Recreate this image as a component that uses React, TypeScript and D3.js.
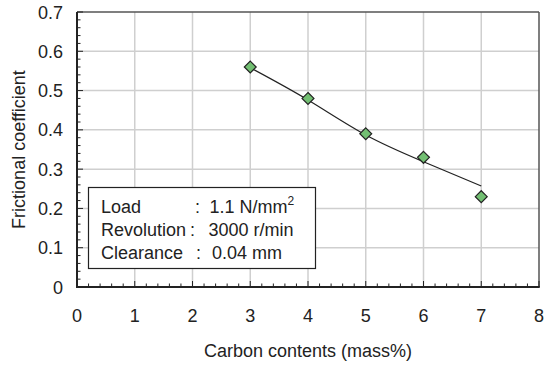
import React from "react";
import * as d3 from "d3";

const carbon = [3, 4, 5, 6, 7];
const friction = [0.56, 0.48, 0.39, 0.33, 0.23];
const fitX = [3, 4, 5, 6, 7];
const fitY = [0.558, 0.476, 0.387, 0.319, 0.257];
const xTicks = [0, 1, 2, 3, 4, 5, 6, 7, 8];
const yTicks = [0, 0.1, 0.2, 0.3, 0.4, 0.5, 0.6, 0.7];
const legendLabels = ["Load", "Revolution", "Clearance"];
const legendValues = ["1.1 N/mm", "3000 r/min", "0.04 mm"];

const W = 544, H = 365;
const L = 77, R = 539, T = 12, B = 287;

export default function App() {
  const x = d3.scaleLinear().domain([0, 8]).range([L, R]);
  const y = d3.scaleLinear().domain([0, 0.7]).range([B, T]);
  const xMinor = d3.range(0, 8.0001, 0.2);
  const yMinor = d3.range(0, 0.7001, 0.02);
  const line = d3
    .line<number>()
    .x((_, i) => x(fitX[i]))
    .y((d) => y(d))
    .curve(d3.curveNatural);
  const diamond = d3.symbol().type(d3.symbolDiamond2).size(90)();
  const font = "Liberation Sans, Arial, sans-serif";
  const colonX = [195, 190, 196];
  const valX = [209.5, 208.5, 212];
  return (
    <svg width={W} height={H} style={{ position: "absolute", left: 0, top: 0 }}>
      <rect x={0} y={0} width={W} height={H} fill="#fff" />
      {xTicks.slice(1, -1).map((t) => (
        <line key={"gx" + t} x1={x(t)} x2={x(t)} y1={T} y2={B} stroke="#cfcfcf" strokeWidth={1.5} />
      ))}
      {yTicks.slice(1, -1).map((t) => (
        <line key={"gy" + t} x1={L} x2={R} y1={y(t)} y2={y(t)} stroke="#cfcfcf" strokeWidth={1.5} />
      ))}
      <line x1={L} x2={R} y1={T} y2={T} stroke="#555" strokeWidth={1.5} />
      <line x1={R} x2={R} y1={T} y2={B} stroke="#555" strokeWidth={1.5} />
      {xMinor.map((t, i) => (
        <line key={"mx" + i} x1={x(t)} x2={x(t)} y1={B} y2={B - (i % 5 === 0 ? 6 : 3.5)} stroke="#222" strokeWidth={1} />
      ))}
      {yMinor.map((t, i) => (
        <line key={"my" + i} x1={L} x2={L + (i % 5 === 0 ? 6 : 3.5)} y1={y(t)} y2={y(t)} stroke="#222" strokeWidth={1} />
      ))}
      <line x1={L} x2={L} y1={T} y2={B + 1} stroke="#222" strokeWidth={2} />
      <line x1={L - 1} x2={R + 0.75} y1={B} y2={B} stroke="#222" strokeWidth={2} />
      {xTicks.map((t) => (
        <text key={"xl" + t} x={x(t)} y={321.5} textAnchor="middle" fontFamily={font} fontSize={18} fill="#222">
          {t}
        </text>
      ))}
      {yTicks.map((t) => (
        <text key={"yl" + t} x={63} y={y(t) + 6.5} textAnchor="end" fontFamily={font} fontSize={18} fill="#222">
          {t === 0 ? "0" : t.toFixed(1)}
        </text>
      ))}
      <text x={(L + R) / 2} y={357} textAnchor="middle" fontFamily={font} fontSize={18} fill="#222">
        Carbon contents (mass%)
      </text>
      <text
        transform={`translate(25,${(T + B) / 2}) rotate(-90)`}
        textAnchor="middle"
        fontFamily={font}
        fontSize={18}
        fill="#222"
      >
        Frictional coefficient
      </text>
      <path d={line(fitY) || ""} fill="none" stroke="#222" strokeWidth={1.2} />
      {carbon.map((c, i) => (
        <path
          key={"p" + i}
          d={diamond || ""}
          transform={`translate(${x(c)},${y(friction[i])})`}
          fill="#72bf72"
          stroke="#222"
          strokeWidth={1.2}
        />
      ))}
      <rect x={88.5} y={187.5} width={227} height={81} fill="#fff" stroke="#222" strokeWidth={1.2} />
      {legendLabels.map((lab, i) => (
        <g key={"lg" + i} fontFamily={font} fontSize={18} fill="#222">
          <text x={101} y={212.5 + i * 23.3}>{lab}</text>
          <text x={colonX[i]} y={212.5 + i * 23.3}>:</text>
          <text x={valX[i]} y={212.5 + i * 23.3}>
            {legendValues[i]}
            {i === 0 ? (
              <tspan dy={-8} fontSize={12}>
                2
              </tspan>
            ) : null}
          </text>
        </g>
      ))}
    </svg>
  );
}
